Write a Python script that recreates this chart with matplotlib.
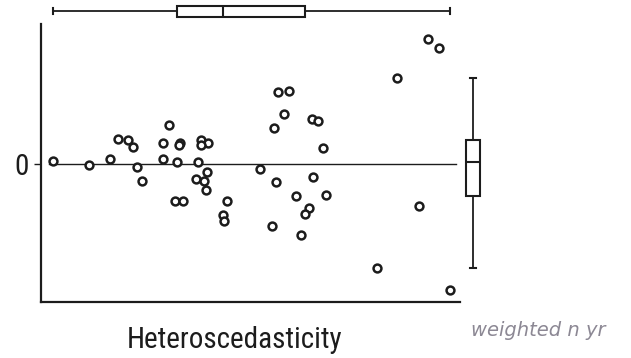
import matplotlib
matplotlib.use("Agg")
import matplotlib.pyplot as plt

# predicted values (x) and residuals (y)
fitted = [0.28, 1.15, 1.65, 1.84, 2.08, 2.19, 2.28, 2.40, 3.06, 2.90,
          2.92, 3.25, 3.32, 3.30, 3.21, 3.38, 3.75, 3.82, 3.98, 3.81,
          3.69, 3.89, 3.96, 3.94, 4.45, 4.35, 4.37, 5.23, 5.57, 5.79,
          5.66, 5.92, 6.46, 6.60, 6.72, 5.61, 6.50, 6.09, 6.80, 6.40,
          6.31, 5.51, 6.20, 9.24, 9.50, 8.49, 9.02, 8.01, 9.75]
resid = [0.07, -0.01, 0.11, 0.50, 0.49, 0.35, -0.05, -0.33, 0.79, 0.43,
         0.11, 0.05, 0.43, 0.38, -0.73, -0.73, 0.05, 0.48, 0.43, 0.39,
         -0.29, -0.33, -0.16, -0.51, -0.73, -1.02, -1.13, -0.10, 0.72, 1.00,
         1.45, 1.47, 0.90, 0.86, 0.32, -0.35, -0.26, -0.64, -0.62, -0.87,
         -0.99, -1.23, -1.42, 2.50, 2.33, 1.73, -0.83, -2.07, -2.51]

title = "Heteroscedasticity"
note = "weighted n yr"

W, H = 631, 358
fig = plt.figure(figsize=(W / 100, H / 100), dpi=100)
ink = "#1c1c1c"
fnt = ["Roboto Condensed", "Roboto"]


def box(l, t, w, h):
    return [l / W, 1 - (t + h) / H, w / W, h / H]


ax = fig.add_axes(box(41, 24, 419, 278))
ax_top = fig.add_axes(box(41, 0, 419, 22), sharex=ax)
ax_rt = fig.add_axes(box(462, 24, 22, 278), sharey=ax)

ax.scatter(fitted, resid, s=32, facecolor="white", edgecolor=ink,
           linewidths=1.8, zorder=3)
ax.plot([0.2, 9.9], [0, 0], color=ink, lw=1.0, zorder=2)
ax.set_xlim(0, 10)
ax.set_ylim(-2.76, 2.8)
for s in ["top", "right"]:
    ax.spines[s].set_visible(False)
for s in ["left", "bottom"]:
    ax.spines[s].set_linewidth(1.6)
    ax.spines[s].set_color(ink)
ax.set_xticks([])
ax.set_yticks([0])
ax.set_yticklabels(["0"], fontsize=21, family=fnt, color=ink)
ax.tick_params(axis="y", length=5, width=1, pad=4, colors=ink)

bp_style = dict(showfliers=False, patch_artist=True,
                boxprops=dict(facecolor="white", edgecolor=ink, linewidth=1.5),
                medianprops=dict(color=ink, linewidth=1.5),
                whiskerprops=dict(color=ink, linewidth=1.3),
                capprops=dict(color=ink, linewidth=1.5))

ax_top.boxplot(fitted, orientation="horizontal", positions=[0], widths=0.5,
               capwidths=0.3, **bp_style)
ax_top.set_ylim(-0.5, 0.5)
ax_top.axis("off")

ax_rt.boxplot(resid, positions=[0], widths=0.6, capwidths=0.3, **bp_style)
ax_rt.set_xlim(-0.5, 0.5)
ax_rt.axis("off")

fig.text(234.5 / W, (H - 348) / H, title, ha="center", va="baseline",
         fontsize=21, family=fnt, color=ink)
fig.text(538 / W, (H - 336) / H, note, ha="center", va="baseline",
         fontsize=14, style="italic", color="#8c8894")

fig.savefig("out.png", dpi=100)
